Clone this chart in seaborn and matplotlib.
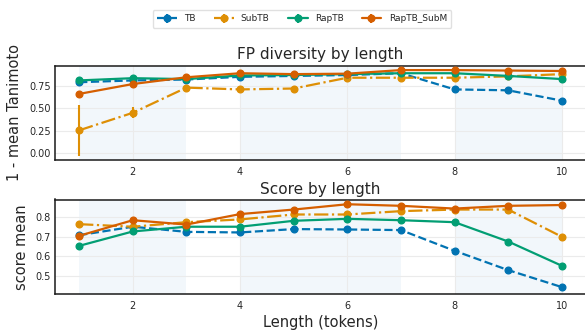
import numpy as np
import pandas as pd
import matplotlib
matplotlib.use("Agg")
import matplotlib.pyplot as plt
import seaborn as sns

lengths = [1, 2, 3, 4, 5, 6, 7, 8, 9, 10]
methods = ["TB", "SubTB", "RapTB", "RapTB_SubM"]

div_tb = [0.79, 0.81, 0.82, 0.85, 0.86, 0.87, 0.89, 0.71, 0.70, 0.585]
div_subtb = [0.255, 0.45, 0.73, 0.71, 0.72, 0.84, 0.84, 0.84, 0.855, 0.88]
div_raptb = [0.81, 0.835, 0.825, 0.865, 0.87, 0.88, 0.89, 0.89, 0.86, 0.825]
div_submrap = [0.66, 0.77, 0.845, 0.89, 0.88, 0.885, 0.925, 0.925, 0.92, 0.915]

div_err_tb = [0.01, 0.01, 0.01, 0.01, 0.01, 0.01, 0.01, 0.01, 0.01, 0.01]
div_err_subtb = [0.285, 0.06, 0.01, 0.01, 0.01, 0.01, 0.01, 0.01, 0.01, 0.01]
div_err_raptb = [0.01, 0.01, 0.01, 0.01, 0.01, 0.01, 0.01, 0.01, 0.01, 0.01]
div_err_submrap = [0.01, 0.01, 0.01, 0.01, 0.01, 0.01, 0.01, 0.01, 0.01, 0.01]

score_tb = [0.707, 0.75, 0.724, 0.721, 0.738, 0.736, 0.733, 0.628, 0.53, 0.444]
score_subtb = [0.763, 0.75, 0.773, 0.787, 0.812, 0.812, 0.829, 0.837, 0.837, 0.699]
score_raptb = [0.653, 0.726, 0.75, 0.75, 0.78, 0.79, 0.783, 0.773, 0.675, 0.552]
score_submrap = [0.704, 0.783, 0.761, 0.814, 0.837, 0.864, 0.856, 0.842, 0.856, 0.86]

score_err = [0.005, 0.005, 0.005, 0.005, 0.005, 0.005, 0.005, 0.005, 0.005, 0.005]

bands = [(1, 3), (4, 7), (8, 10)]

sns.set_theme(style="whitegrid", palette="colorblind")
plt.rcParams["font.family"] = ["DejaVu Sans"]
pal = sns.color_palette("colorblind")
colors = {"TB": pal[0], "SubTB": pal[1], "RapTB": pal[2], "RapTB_SubM": pal[3]}
styles = {"TB": "--", "SubTB": "-.", "RapTB": "-", "RapTB_SubM": "-"}

div = {"TB": (div_tb, div_err_tb), "SubTB": (div_subtb, div_err_subtb),
       "RapTB": (div_raptb, div_err_raptb), "RapTB_SubM": (div_submrap, div_err_submrap)}
score = {"TB": (score_tb, score_err), "SubTB": (score_subtb, score_err),
         "RapTB": (score_raptb, score_err), "RapTB_SubM": (score_submrap, score_err)}

fig = plt.figure(figsize=(5.85, 3.3), dpi=100)
ax1 = fig.add_axes([55 / 585, 1 - 160 / 330, 531 / 585, 94.5 / 330])
ax2 = fig.add_axes([55 / 585, 1 - 294 / 330, 531 / 585, 94.5 / 330])

handles = []
for ax, data in ((ax1, div), (ax2, score)):
    for lo, hi in bands:
        ax.axvspan(lo, hi, color=pal[0], alpha=0.05, lw=0, zorder=0)
    for m in methods:
        vals, err = data[m]
        h = ax.errorbar(lengths, vals, yerr=err, color=colors[m], ls=styles[m],
                        lw=1.6, marker="o", ms=4.8, elinewidth=1.5, capsize=0,
                        label=m, zorder=3)
        if ax is ax1:
            handles.append(h)
    ax.set_xlim(0.55, 10.45)
    ax.set_xticks([2, 4, 6, 8, 10])
    ax.tick_params(axis="both", labelsize=7, length=0)
    ax.tick_params(axis="x", pad=5)
    ax.tick_params(axis="y", pad=3)
    for s in ax.spines.values():
        s.set_color("0.1")
        s.set_linewidth(1.1)
    ax.grid(True, color="0.92", lw=0.8)

ax1.set_ylim(-0.075, 0.976)
ax1.set_yticks([0.0, 0.25, 0.5, 0.75])
ax1.set_title("FP diversity by length", fontsize=11, pad=5)
ax1.set_ylabel("1 - mean Tanimoto", fontsize=10.5, labelpad=5)

ax2.set_ylim(0.409, 0.888)
ax2.set_yticks([0.5, 0.6, 0.7, 0.8])
ax2.set_title("Score by length", fontsize=11, pad=4)
ax2.set_ylabel("score mean", fontsize=10.5, labelpad=5)
ax2.set_xlabel("Length (tokens)", fontsize=10.5, labelpad=3)

fig.legend(handles, methods, loc="center", bbox_to_anchor=(302 / 585, 1 - 18.8 / 330),
           ncol=4, fontsize=6.5, frameon=True, handlelength=2.2, columnspacing=2.0,
           borderpad=0.5, edgecolor="0.85")

fig.savefig("out.png", dpi=100)
